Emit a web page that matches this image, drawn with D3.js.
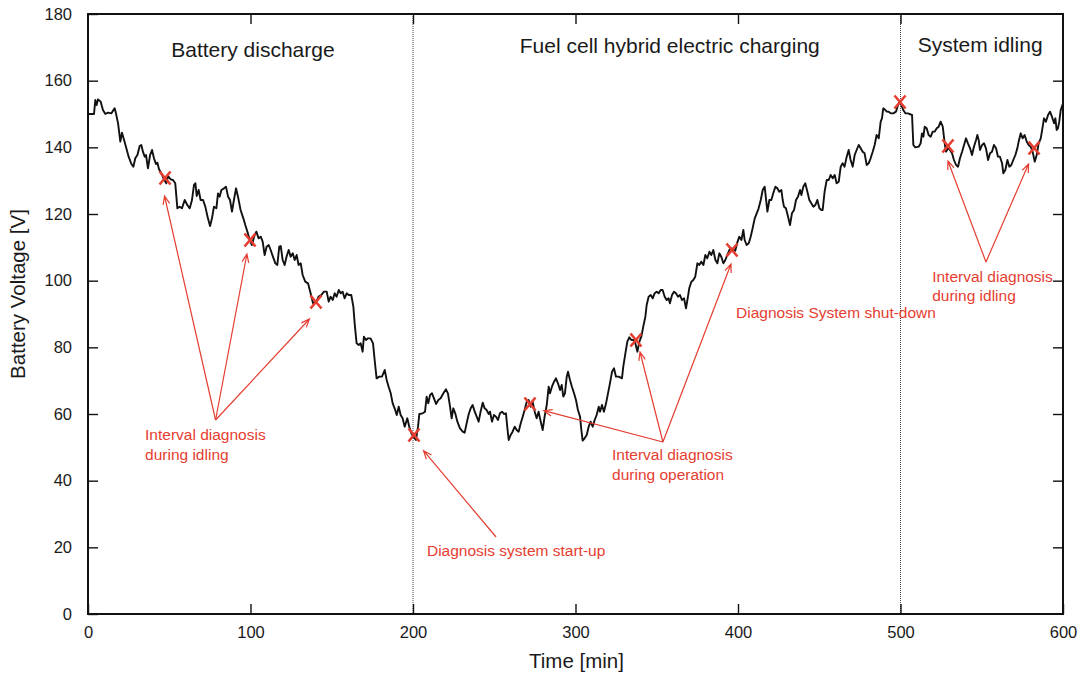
<!DOCTYPE html>
<html>
<head>
<meta charset="utf-8">
<script src="https://cdn.jsdelivr.net/npm/d3@7"></script>
<style>
  body { margin: 0; background: #fff; }
  svg { display: block; }
  text { font-family: "Liberation Sans", Arial, Helvetica, sans-serif; }
</style>
</head>
<body>
<svg id="chart" width="1087" height="673"></svg>
<script>
// Battery voltage trace [V] against time [min]
const minutes = [
  0, 3.7, 4.5, 5.3, 6.2, 7.8, 9.2, 10.7, 12.3, 14.4, 15.4, 16.4, 17.2, 18.5, 19.9, 20.9, 22.2, 23.6, 25, 26.7,
  27.9, 29.1, 30.4, 31.8, 32.8, 33.8, 34.9, 35.7, 36.9, 38.2, 39.4, 40.6, 41.8, 42.7, 43.7, 45.1, 46.8, 48.2, 49.2, 50.9,
  52.3, 53.7, 55, 56.4, 57.8, 59.5, 61.1, 62.6, 64, 65.2, 66.1, 66.9, 68.1, 69.3, 70.8, 72.2, 73.8, 75.1, 76.3, 77.5,
  79, 80, 81, 82.1, 83.7, 84.9, 86.2, 87.4, 88.6, 89.8, 91.1, 92.3, 93.9, 95.6, 96.8, 98.1, 99.5, 100.9, 102.2, 103.6,
  105, 106.3, 107.5, 108.7, 109.9, 111.2, 112.4, 113.8, 115.3, 116.5, 117.7, 118.6, 119.8, 121, 122.3, 123.5, 124.7, 126, 127.2, 128.4,
  129.6, 130.9, 132.1, 133.7, 135.4, 137, 138.5, 140.5, 141.9, 143.6, 145.2, 146.9, 148.1, 149.3, 150.6, 151.8, 153, 154.3, 155.5, 156.7,
  157.9, 159.2, 160.4, 162, 163.3, 164.1, 165.3, 166.6, 167.8, 169, 169.8, 171.1, 172.3, 173.9, 175.4, 176.4, 177.6, 179.3, 180.9, 182.6,
  183.8, 185, 186.3, 187.5, 188.7, 190, 191.2, 192.4, 193.6, 194.9, 196.5, 197.7, 199, 200.2, 201.8, 203.1, 203.9, 206, 207.4, 208.4,
  209.4, 210.5, 211.7, 212.9, 214.2, 215.6, 217, 218.7, 220.3, 221.5, 222.8, 223.8, 224.8, 226, 227.3, 228.9, 230.6, 231.8, 233, 234.3,
  235.5, 236.7, 238, 239.2, 240.4, 241.6, 242.9, 244.1, 245.3, 246.6, 247.4, 248.6, 249.8, 251.1, 252.3, 253.5, 254.8, 256, 257.2, 258.1,
  258.9, 260.1, 261.3, 262.6, 263.8, 265, 266.3, 267.5, 268.7, 270, 271.2, 272.4, 273.6, 274.9, 276.1, 277.3, 278.6, 279.8, 281, 282.3,
  283.5, 284.3, 285.5, 286.8, 288, 289.2, 290.5, 291.5, 292.5, 293.5, 294.6, 295.4, 296.6, 297.8, 299.1, 300.3, 301.5, 302.8, 303.6, 304.4,
  305.6, 306.9, 308.1, 309.3, 310.6, 311.8, 313, 314.3, 315.1, 316.3, 317.5, 318.8, 320, 321.2, 322.5, 323.7, 324.9, 326.6, 328.6, 329.4,
  330.7, 331.9, 333.1, 334.4, 335.6, 336.8, 338.1, 339.3, 340.5, 341.7, 343, 343.8, 345, 346.3, 347.5, 348.7, 350, 351.2, 352.4, 353.6,
  354.9, 356.1, 357.3, 358.1, 359.4, 360.6, 361.8, 363.1, 364.3, 365.5, 366.8, 368, 369.2, 370, 371.3, 372.5, 373.7, 375, 376.2, 377.4,
  378.7, 379.9, 381.1, 382.4, 383.6, 384.8, 386.1, 387.3, 388.5, 389.7, 391, 392.2, 393.4, 394.7, 395.9, 397.1, 398.3, 399.6, 400.8, 402.1,
  403.3, 404.1, 405.3, 406.6, 407.8, 409, 410.3, 411.5, 412.7, 414, 415.2, 416.4, 417.2, 418.1, 419.3, 420.5, 421.7, 423, 424.2, 425.4,
  426.7, 427.5, 428.3, 429.5, 430.8, 432, 433.2, 434.5, 435.7, 436.9, 438.2, 439, 440.2, 441.4, 442.7, 443.9, 445.1, 446.4, 447.6, 448.8,
  450.1, 451.3, 452.1, 453.3, 454.6, 455.8, 457, 458.3, 459.5, 460.7, 462, 463.2, 464.4, 465.6, 466.9, 468.1, 469.3, 470.6, 471.8, 473,
  474.3, 475.5, 476.7, 477.9, 479.2, 480.4, 481.6, 482.9, 484.1, 485.3, 486.6, 487.8, 488.6, 489.4, 490.7, 491.5, 492.7, 494, 495.6, 497.2,
  498.5, 499.7, 500.9, 501.7, 503, 504.6, 507.1, 507.9, 509.1, 511.2, 512.4, 513.2, 514.1, 514.9, 516.1, 517.3, 518.6, 519.8, 521, 522.3,
  523.5, 524.7, 526, 527.2, 528, 529.2, 530.5, 531.7, 532.9, 534.2, 535.4, 536.6, 537.9, 539.1, 540.3, 541.5, 542.8, 544, 545.2, 546.5,
  547.3, 548.1, 548.9, 550.2, 551.4, 552.6, 553.9, 555.1, 556.3, 557.5, 558.8, 560, 561.2, 562.5, 563.3, 564.5, 565.8, 567, 568.2, 569.4,
  570.7, 571.9, 572.7, 574, 575.2, 576.4, 577.7, 578.9, 580.1, 581.3, 582.6, 583.8, 585, 586.3, 587.5, 588.3, 589.5, 590.8, 592, 593.2,
  594.5, 595.3, 596.1, 596.9, 597.7, 598.6, 600
];
const voltage = [
  150, 150, 154.2, 152.7, 154.4, 153.7, 151.2, 150, 150.4, 150.2, 151, 151.7, 150.2, 147.2, 141.7, 144.4, 142.2, 139.7, 137.2, 135,
  134.2, 136.7, 137.7, 140.4, 140.7, 138.7, 137.2, 137.7, 133.7, 137.7, 139.2, 136.7, 135, 135.4, 133.4, 132.2, 130.4, 129.2, 131.4, 130.4,
  130.2, 129.2, 121.7, 122.2, 121.7, 124.2, 122.7, 121.7, 124.2, 128.7, 129.2, 125.4, 127.2, 124.2, 124.2, 122.2, 118.7, 116.4, 118.7, 122.2,
  121.7, 126.2, 125.2, 127.2, 127.7, 128.2, 125.2, 124.2, 120.7, 124.2, 127.7, 125.2, 121.2, 118.7, 116.7, 114.7, 112.2, 110.7, 113.2, 114.7,
  112.7, 113.2, 111.7, 107.7, 110.2, 110.7, 109.2, 107.2, 105.2, 104.7, 110.2, 110.4, 106.2, 104.7, 107.4, 109.2, 107.2, 108.2, 106.2, 107.7,
  104.7, 105.2, 101.7, 99.7, 99.2, 96.2, 93.2, 93.7, 95.2, 95.7, 96.7, 96.7, 93.7, 95.2, 94.2, 96.2, 95.2, 97.2, 96.2, 96.7,
  94.7, 96.2, 95.7, 95.7, 92.2, 87.2, 81.2, 80.7, 81.2, 78.7, 83.2, 82.2, 82.7, 82.7, 81.2, 76.2, 70.7, 71.2, 71.2, 73.2,
  70.2, 68.2, 66.2, 63.2, 61.7, 59.7, 62.2, 59.7, 58.7, 56.2, 58.7, 56.2, 54.2, 53.2, 52.2, 56.2, 60, 60.2, 60.7, 65.2,
  63.2, 65.7, 66.2, 64.7, 63, 64.2, 64.7, 66.2, 67.4, 66.2, 62.2, 58.7, 61.7, 60.2, 57.7, 55.7, 54.7, 54.4, 57.2, 60,
  61.7, 62.7, 60.7, 59.2, 57.7, 60.7, 63.4, 61.7, 61.2, 60, 60.7, 57.7, 59.7, 59.2, 58.2, 60.2, 60.7, 60, 60.2, 55.7,
  52.2, 53.7, 54.7, 56.2, 55.2, 54.7, 57.2, 59.2, 61.2, 63.7, 64.2, 62.2, 63.7, 60.7, 58.7, 60.7, 57.7, 55.2, 59.2, 62.7,
  68.2, 66.2, 68.2, 69.7, 70.7, 69.2, 67.2, 68.7, 65.2, 66.2, 71.2, 72.7, 70.2, 68.2, 66.2, 64.2, 61.2, 59.2, 55.2, 52,
  52.7, 53.7, 56.2, 57.7, 56.2, 58.2, 59.7, 62.2, 60.7, 62.7, 60.7, 63.2, 66.2, 69.2, 72.7, 73.7, 71.2, 71.2, 70.7, 74.2,
  78.2, 81.7, 83, 82.2, 82.2, 81.2, 78.7, 81.7, 83.2, 86.2, 89.2, 92.7, 95.2, 95.7, 94.7, 96.2, 96.7, 96.2, 97.2, 97.2,
  95.2, 94.2, 94.7, 93.2, 95.7, 96.7, 96.2, 95.2, 95.7, 94.2, 94.7, 91.7, 95.2, 97.7, 99.7, 100.2, 101.2, 105.2, 104.7, 105.7,
  104.7, 107.7, 106.7, 108.7, 107.7, 109.2, 106.2, 105.2, 108.2, 107.2, 105.2, 106.2, 107.7, 109.2, 109.7, 109.2, 109, 111.5, 113.2, 112.2,
  115.2, 112.2, 110.7, 111.2, 113.2, 115.7, 118.7, 120.2, 121.7, 124.2, 127.2, 128.2, 124.7, 120.7, 124.2, 124.2, 126.2, 128.2, 127.7, 126.7,
  127.2, 124.2, 122.2, 121.7, 119.2, 116.7, 120.2, 121.2, 124.2, 125.2, 127.2, 125.7, 128.2, 129.2, 126.7, 124.2, 123.2, 122.2, 122.7, 124.2,
  121.7, 121.2, 121.2, 126.7, 130.2, 130.2, 131.7, 130.7, 131.7, 129.2, 129.7, 134.2, 135.2, 134.2, 137.2, 139.2, 136.2, 134.2, 137.7, 139.2,
  140.7, 139.7, 138.7, 138.2, 134.7, 135.2, 136.7, 138.7, 140.7, 143.7, 142.7, 147.7, 148.7, 151.7, 151.2, 150.7, 150.7, 150.2, 150.2, 150.7,
  152.7, 153.7, 152.2, 151.2, 150.2, 150.2, 149.7, 140.7, 140, 140.2, 141.2, 144.2, 143.2, 146.2, 145.7, 143.7, 143.2, 144.7, 144.7, 145.7,
  146.2, 147.7, 146.2, 141.2, 138.7, 139.7, 139.2, 138.2, 136.2, 134.7, 134.2, 136.7, 138.7, 140.7, 142.7, 141.2, 139.7, 137.7, 140.2, 142.2,
  143.7, 142.2, 139.2, 140.7, 141.2, 139.7, 136.2, 138.2, 138.7, 140.7, 139.7, 137.2, 137.2, 135.2, 132.2, 133.2, 136.2, 134.2, 134.7, 136.2,
  137.7, 139.7, 141.7, 144.2, 142.7, 143.7, 141.7, 140.7, 140.2, 138.7, 135.7, 137.7, 141.2, 142.7, 146.2, 148.7, 147.7, 149.7, 150.7, 149.2,
  147.2, 148.7, 145.2, 145.7, 147.7, 151.2, 153.2
];

// Axis ticks
const xTicks = [0, 100, 200, 300, 400, 500, 600];
const yTicks = [0, 20, 40, 60, 80, 100, 120, 140, 160, 180];

// Operating phases: boundaries [min] and headings (anchor minute, voltage)
const phaseBounds = [200, 500];
const phaseNames = ["Battery discharge", "Fuel cell hybrid electric charging", "System idling"];
const phaseMinute = [101.5, 358, 549];
const phaseVolt = [167.2, 168.3, 168.6];

// Diagnosis instants (marked with a cross)
const diagMinute = [47.4, 99.7, 140.3, 200.6, 272, 337.2, 396.3, 499.7, 529.2, 582.2];
const diagVolt = [130.8, 112.2, 93.6, 53.7, 63, 82.2, 109.2, 153.6, 140.4, 139.8];

// Annotation texts, anchored at (minute, voltage) of first baseline
const noteLines = [
  ["Interval diagnosis", "during idling"],
  ["Diagnosis system start-up"],
  ["Interval diagnosis", "during operation"],
  ["Diagnosis System shut-down"],
  ["Interval diagnosis", "during idling"]
];
const noteMinute = [35.1, 208.6, 322.5, 398.8, 519.5];
const noteVolt = [52.2, 17.4, 46.1, 88.9, 99.7];

// Arrows: tail (minute, voltage) -> head (minute, voltage)
const arrowFromMinute = [78.5, 78.5, 78.5, 251.1, 353.8, 353.8, 353.8, 552.6, 552.6];
const arrowFromVolt   = [58.2, 58.2, 58.2, 23.1, 51.6, 51.6, 51.6, 105.6, 105.6];
const arrowToMinute   = [47.1, 97.8, 136.3, 206.5, 280.5, 339.7, 395.7, 529.2, 578.8];
const arrowToVolt     = [125.4, 108, 88.5, 49, 61, 78.6, 105, 135.9, 135];

const RED = "#e53d30";
const margin = { left: 88, top: 14, right: 24, bottom: 59 };
const W = 1087, H = 673;
const iw = W - margin.left - margin.right;   // 975
const ih = H - margin.top - margin.bottom;   // 600

const svg = d3.select("#chart");
const g = svg.append("g").attr("transform", `translate(${margin.left},${margin.top})`);

const x = d3.scaleLinear().domain([0, 600]).range([0, iw]);
const y = d3.scaleLinear().domain([0, 180]).range([ih, 0]);

// Phase separators (dotted)
g.selectAll("line.phase")
  .data(phaseBounds)
  .join("line")
  .attr("class", "phase")
  .attr("x1", d => x(d)).attr("x2", d => x(d))
  .attr("y1", 0).attr("y2", ih)
  .attr("stroke", "#444")
  .attr("stroke-width", 1)
  .attr("stroke-dasharray", "1,1");

// Axes with inward ticks on all four sides
function styleAxis(sel) {
  sel.select(".domain").remove();
  sel.selectAll(".tick line").attr("stroke", "#111").attr("stroke-width", 1.4);
  sel.selectAll(".tick text").attr("fill", "#1a1a1a").style("font-size", "16.5px");
}
g.append("g").attr("transform", `translate(0,${ih})`)
  .call(d3.axisBottom(x).tickValues(xTicks).tickSize(-10).tickPadding(12.5).tickFormat(d3.format("d")))
  .call(styleAxis);
g.append("g")
  .call(d3.axisTop(x).tickValues(xTicks.slice(1, -1)).tickSize(-10).tickFormat(""))
  .call(styleAxis);
g.append("g")
  .call(d3.axisLeft(y).tickValues(yTicks).tickSize(-10).tickPadding(16).tickFormat(d3.format("d")))
  .call(styleAxis);
g.append("g").attr("transform", `translate(${iw},0)`)
  .call(d3.axisRight(y).tickValues(yTicks.slice(1, -1)).tickSize(-10).tickFormat(""))
  .call(styleAxis);

// Frame
g.append("rect")
  .attr("x", 0).attr("y", 0).attr("width", iw).attr("height", ih)
  .attr("fill", "none").attr("stroke", "#111").attr("stroke-width", 2);

// Voltage trace
const series = minutes.map((m, i) => [m, voltage[i]]);
g.append("path")
  .datum(series)
  .attr("fill", "none")
  .attr("stroke", "#111")
  .attr("stroke-width", 1.9)
  .attr("stroke-linejoin", "round")
  .attr("d", d3.line().x(d => x(d[0])).y(d => y(d[1])));

// Diagnosis crosses
const crossW = 5.5, crossH = 6.5;
const marks = g.selectAll("g.diag")
  .data(diagMinute.map((m, i) => [m, diagVolt[i]]))
  .join("g")
  .attr("class", "diag")
  .attr("transform", d => `translate(${x(d[0])},${y(d[1])})`);
marks.append("path")
  .attr("d", `M${-crossW},${-crossH}L${crossW},${crossH}M${-crossW},${crossH}L${crossW},${-crossH}`)
  .attr("stroke", RED)
  .attr("stroke-width", 2.6)
  .attr("fill", "none");

// Arrows with open heads
const arrows = arrowFromMinute.map((m, i) => ({
  x1: x(m), y1: y(arrowFromVolt[i]),
  x2: x(arrowToMinute[i]), y2: y(arrowToVolt[i])
}));
const headLen = 9, headAng = 0.38;
g.selectAll("path.arrow")
  .data(arrows)
  .join("path")
  .attr("class", "arrow")
  .attr("fill", "none")
  .attr("stroke", RED)
  .attr("stroke-width", 1.2)
  .attr("d", a => {
    const ang = Math.atan2(a.y2 - a.y1, a.x2 - a.x1);
    const l1x = a.x2 - headLen * Math.cos(ang - headAng), l1y = a.y2 - headLen * Math.sin(ang - headAng);
    const l2x = a.x2 - headLen * Math.cos(ang + headAng), l2y = a.y2 - headLen * Math.sin(ang + headAng);
    return `M${a.x1},${a.y1}L${a.x2},${a.y2}M${l1x},${l1y}L${a.x2},${a.y2}L${l2x},${l2y}`;
  });

// Annotation texts
noteLines.forEach((lines, i) => {
  const t = g.append("text")
    .attr("x", x(noteMinute[i]))
    .attr("y", y(noteVolt[i]))
    .attr("fill", RED)
    .style("font-size", "15.5px");
  lines.forEach((s, k) => {
    t.append("tspan").attr("x", x(noteMinute[i])).attr("dy", k === 0 ? 0 : 19.5).text(s);
  });
});

// Phase headings
g.selectAll("text.phase")
  .data(phaseNames)
  .join("text")
  .attr("class", "phase")
  .attr("x", (d, i) => x(phaseMinute[i]))
  .attr("y", (d, i) => y(phaseVolt[i]))
  .attr("text-anchor", "middle")
  .attr("fill", "#1a1a1a")
  .style("font-size", "21px")
  .text(d => d);

// Axis titles
svg.append("text")
  .attr("x", margin.left + x(300) + 1)
  .attr("y", 668)
  .attr("text-anchor", "middle")
  .attr("fill", "#1a1a1a")
  .style("font-size", "20.5px")
  .text("Time [min]");
svg.append("text")
  .attr("transform", `translate(25,${margin.top + y(90) - 20}) rotate(-90)`)
  .attr("text-anchor", "middle")
  .attr("fill", "#1a1a1a")
  .style("font-size", "20.5px")
  .text("Battery Voltage [V]");
</script>
</body>
</html>
